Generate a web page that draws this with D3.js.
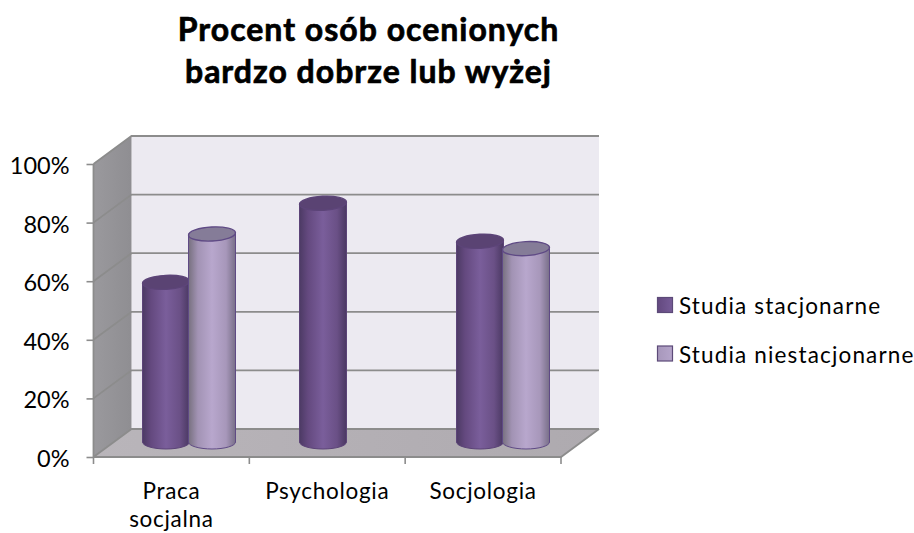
<!DOCTYPE html>
<html><head><meta charset="utf-8">
<script src="https://cdnjs.cloudflare.com/ajax/libs/d3/7.8.5/d3.min.js"></script>
<style>html,body{margin:0;padding:0;background:#fff}svg{display:block}text{font-family:Lato,"Open Sans",sans-serif;fill:#000}</style>
</head><body><div id="c"></div>
<script>
const titleLines = ["Procent osób ocenionych", "bardzo dobrze lub wyżej"];
const categories = [["Praca", "socjalna"], ["Psychologia"], ["Socjologia"]];
const seriesNames = ["Studia stacjonarne", "Studia niestacjonarne"];
const stacjonarne = [54.5, 81.5, 68.5];
const niestacjonarne = [71, null, 66];
const yTicks = [0, 20, 40, 60, 80, 100];

const W = 914, H = 533;
const svg = d3.select("#c").append("svg").attr("width", W).attr("height", H);
const defs = svg.append("defs");

function grad(id, stops, x2 = "100%", y2 = "0%") {
  const g = defs.append("linearGradient").attr("id", id).attr("x1", "0%").attr("y1", "0%").attr("x2", x2).attr("y2", y2);
  stops.forEach(([o, c]) => g.append("stop").attr("offset", o).attr("stop-color", c));
}
grad("dark", [["0", "#4c3a64"], [".18", "#64497f"], [".5", "#7a5e9b"], [".8", "#6a5086"], ["1", "#4a3862"]]);
grad("light", [["0", "#77707f"], [".2", "#a293b4"], [".5", "#b8a7cd"], [".8", "#a797ba"], ["1", "#786f88"]]);
grad("wall", [["0", "#9a999d"], ["1", "#8f8e92"]], "100%", "0%");
grad("floor", [["0", "#b9b5ba"], ["1", "#aeaaaf"]], "100%", "0%");
grad("leg0", [["0", "#63497f"], ["1", "#775c98"]]);
grad("leg1", [["0", "#a797bb"], ["1", "#b5a5ca"]]);

const x0 = 93.5, x1 = 561, yB = 457, yT = 164, dx = 38, dy = 28;
const y = d3.scaleLinear().domain([0, 100]).range([yB, yT]);
const xCat = d3.scaleBand().domain(d3.range(categories.length)).range([x0, x1]).padding(0);
const xBar = d3.scaleBand().domain(d3.range(categories.length)).range([110.5, 581.5]).padding(0);
const barW = 47;
const midDy = 15;
const line = d3.line();

// back wall
svg.append("path").attr("d", line([[x0 + dx, yT - dy], [x1 + dx, yT - dy], [x1 + dx, yB - dy], [x0 + dx, yB - dy]]) + "Z").attr("fill", "#eceaf1");
// left wall
svg.append("path").attr("d", line([[x0, yT], [x0 + dx, yT - dy], [x0 + dx, yB - dy], [x0, yB]]) + "Z").attr("fill", "url(#wall)");
// floor
svg.append("path").attr("d", line([[x0, yB], [x0 + dx, yB - dy], [x1 + dx, yB - dy], [x1, yB]]) + "Z").attr("fill", "url(#floor)");

// gridlines
const gridC = "#8c8c8c";
yTicks.forEach(t => {
  svg.append("path").attr("fill", "none").attr("stroke", gridC).attr("stroke-width", 1.8)
    .attr("d", line([[x0, y(t)], [x0 + dx, y(t) - dy], [x1 + dx, y(t) - dy]]));
});
// front axis
svg.append("path").attr("fill", "none").attr("stroke", gridC).attr("stroke-width", 1.8)
  .attr("d", line([[x0, yT], [x0, yB], [x1, yB], [x1 + dx, yB - dy]]));

// y axis
const yAxis = d3.axisLeft(y).tickValues(yTicks).tickFormat(d => d + "%").tickSize(7).tickPadding(17);
const gy = svg.append("g").attr("transform", `translate(${x0},0)`).call(yAxis);
gy.select(".domain").remove();
gy.selectAll("line").attr("stroke", gridC).attr("stroke-width", 1.6);
gy.selectAll("text").attr("font-size", 23.5).attr("dy", "0.4em").style("font-family", "Lato");

// x axis ticks
const xTickVals = d3.range(categories.length + 1).map(i => x0 + i * xCat.bandwidth());
svg.append("g").selectAll("line").data(xTickVals).join("line")
  .attr("x1", d => d).attr("x2", d => d).attr("y1", yB).attr("y2", yB + 7)
  .attr("stroke", gridC).attr("stroke-width", 1.6);

// x labels
categories.forEach((lines, i) => {
  const cx = xCat(i) + xCat.bandwidth() / 2;
  lines.forEach((s, j) => {
    svg.append("text").attr("x", cx).attr("y", 499 + j * 28).attr("text-anchor", "middle")
      .attr("font-size", 22.5).attr("letter-spacing", 0.7).text(s);
  });
});

// cylinders
const ry = 7;
function cyl(v, cat, ser) {
  if (v == null) return;
  const cx = xBar(cat) + xBar.bandwidth() / 2 + (ser === 0 ? -23 : 23);
  const rx = barW / 2;
  const yb = y(0) - midDy, yt = y(v) - midDy;
  const g = svg.append("g");
  const stroke = ser === 0 ? "#5c4478" : "#5f4a85";
  g.append("path")
    .attr("d", `M${cx - rx},${yt}L${cx - rx},${yb}A${rx},${ry} 0 0 0 ${cx + rx},${yb}L${cx + rx},${yt}Z`)
    .attr("fill", `url(#${ser === 0 ? "dark" : "light"})`).attr("stroke", stroke).attr("stroke-width", 1);
  g.append("ellipse").attr("cx", cx).attr("cy", yt).attr("rx", rx).attr("ry", ry)
    .attr("transform", `rotate(-3 ${cx} ${yt})`)
    .attr("fill", ser === 0 ? "#5a4373" : "#857c98").attr("stroke", stroke).attr("stroke-width", 1.4);
}
categories.forEach((c, i) => cyl(stacjonarne[i], i, 0));
categories.forEach((c, i) => cyl(niestacjonarne[i], i, 1));

// legend
seriesNames.forEach((n, i) => {
  const ly = 297.5 + i * 48.5;
  svg.append("rect").attr("x", 657.5).attr("y", ly).attr("width", 15).attr("height", 15)
    .attr("fill", `url(#leg${i})`).attr("stroke", "#5c4a78").attr("stroke-width", 1.2);
  svg.append("text").attr("x", 679).attr("y", ly + 16.5).attr("font-size", 22.5)
    .attr("letter-spacing", 1.15).text(n);
});

// title
titleLines.forEach((s, i) => {
  svg.append("text").attr("x", 368.5).attr("y", 40.5 + i * 42).attr("text-anchor", "middle")
    .attr("font-size", 32).attr("font-weight", 700).attr("letter-spacing", 1)
    .attr("stroke", "#000").attr("stroke-width", 0.7).text(s);
});
</script></body></html>
